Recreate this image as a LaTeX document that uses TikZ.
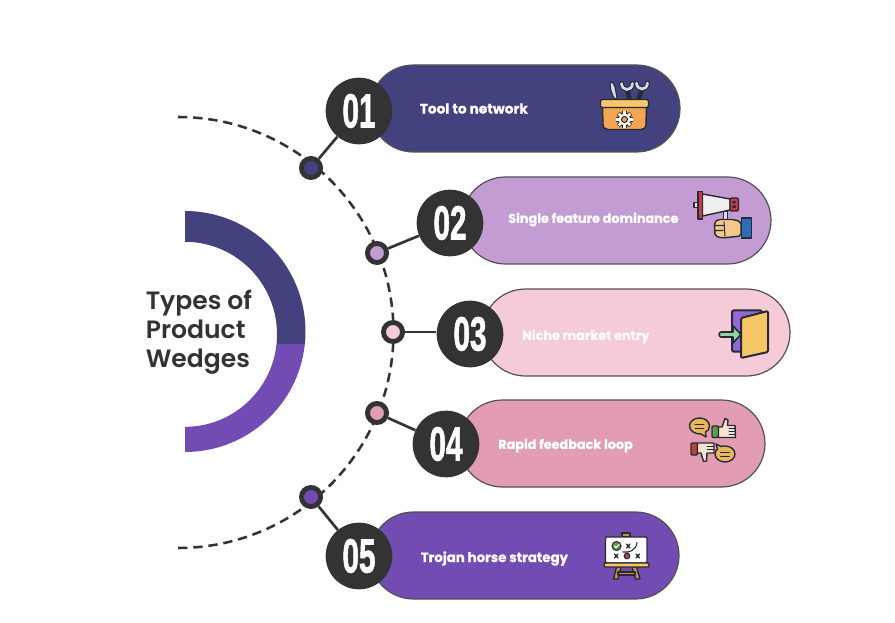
\documentclass[tikz,border=0pt]{standalone}
\usepackage{fontspec}
\usepackage{graphicx}
\setmainfont{Poppins}
\newfontfamily\numfont{Liberation Sans Bold}[FakeBold=1.6]
\newfontfamily\labfont{Poppins Bold}[FakeBold=0.6]
\newfontfamily\headfont{Poppins SemiBold}
\usetikzlibrary{shapes.misc}
\definecolor{ink}{HTML}{333333}
\definecolor{navy}{HTML}{44417F}
\definecolor{lilac}{HTML}{C39CD3}
\definecolor{blush}{HTML}{F4CBD6}
\definecolor{rosy}{HTML}{E29DB2}
\definecolor{violet}{HTML}{724CB2}
\definecolor{icoline}{HTML}{262B33}
\definecolor{gold}{HTML}{F6C667}
\definecolor{honey}{HTML}{E9B55F}
\definecolor{amber}{HTML}{F2A553}
\definecolor{timber}{HTML}{D08A45}
\definecolor{steel}{HTML}{D5DAEA}
\definecolor{tan}{HTML}{F3C98B}
\definecolor{cream}{HTML}{F5E3CF}
\definecolor{signal}{HTML}{C63A45}
\definecolor{cuff}{HTML}{2F6DB5}
\definecolor{leaf}{HTML}{5E9E4B}
\definecolor{brick}{HTML}{B5443C}
\definecolor{mint}{HTML}{8ED4A4}
\definecolor{plum}{HTML}{9468D6}
\tikzset{
  x=0.75pt,y=-0.75pt,
  pill/.style={rounded rectangle,draw=ink!85!white,line width=0.9pt,minimum height=65.25pt,inner sep=0pt,outer sep=0pt},
  numdisc/.style={circle,fill=ink,minimum size=50pt,inner sep=0pt,text=white,font=\numfont\fontsize{36}{36}\selectfont},
  joint/.style={circle,draw=ink,line width=3.7pt,minimum size=14.3pt,inner sep=0pt},
  link/.style={draw=ink,line width=2pt},
  lab/.style={anchor=west,inner sep=0pt,text=white,font=\labfont\fontsize{9.6}{11}\selectfont},
  ico/.style={draw=icoline,line width=1.05pt,line join=round,line cap=round},
  icl/.style={draw=icoline,line width=0.8pt,line cap=round},
}
\newcommand{\cond}[1]{\scalebox{0.62}[1]{#1}}
\begin{document}
\begin{tikzpicture}
\useasboundingbox (0,0) rectangle (895,623);

% central half ring
\fill[navy] (185,211) arc[start angle=-90,end angle=6,radius=120.5]
  -- (276.5,344) arc[start angle=6,end angle=-90,x radius=92,y radius=92.5] -- cycle;
\fill[violet] (185,452) arc[start angle=90,end angle=6,radius=120.5]
  -- (276.5,344) arc[start angle=6,end angle=90,x radius=92,y radius=92.5] -- cycle;
\node[anchor=west,inner sep=0pt,align=left,text=ink,font=\headfont\fontsize{18.8}{21.7}\selectfont] (title) at (145.5,332) {Types of\\Product\\Wedges};

% dashed guide arc
\draw[ink,line width=1.9pt,dash pattern=on 7pt off 4.38pt] (178,117) arc[start angle=-90,end angle=90,radius=215.5];

% capsules
\node[pill,fill=navy,minimum width=232.5pt] (p1) at (525,108.5) {};
\node[pill,fill=lilac,minimum width=231.75pt] (p2) at (616.5,220.5) {};
\node[pill,fill=blush,minimum width=231pt] (p3) at (636,332.5) {};
\node[pill,fill=rosy,minimum width=229.5pt] (p4) at (612,443.5) {};
\node[pill,fill=violet,minimum width=231.75pt] (p5) at (524.5,555.5) {};

% numbered discs and joints on the arc
\node[numdisc] (n1) at (359,111) {\cond{01}};
\node[numdisc] (n2) at (450,223) {\cond{02}};
\node[numdisc] (n3) at (470,334) {\cond{03}};
\node[numdisc] (n4) at (446,444) {\cond{04}};
\node[numdisc] (n5) at (359,556) {\cond{05}};
\node[joint,fill=navy] (j1) at (311,168) {};
\node[joint,fill=lilac] (j2) at (377,253) {};
\node[joint,fill=blush] (j3) at (393,332) {};
\node[joint,fill=rosy] (j4) at (377,413) {};
\node[joint,fill=violet] (j5) at (311,497) {};
\draw[link] (j1) -- (n1);
\draw[link] (j2) -- (n2);
\draw[link] (j3.east) -- (j3.east -| n3.west);
\draw[link] (j4) -- (n4);
\draw[link] (j5) -- (n5);

% capsule captions
\node[lab,font=\labfont\fontsize{10.3}{11}\selectfont] (t1) at (419.5,108.5) {Tool to network};
\node[lab] (t2) at (508,219.5) {Single feature dominance};
\node[lab,text=white!92!blush] (t3) at (522,336.5) {Niche market entry};
\node[lab] (t4) at (498,445.5) {Rapid feedback loop};
\node[lab,font=\labfont\fontsize{10}{11}\selectfont] (t5) at (420.5,558.5) {Trojan horse strategy};

% toolbox
\begin{scope}
\draw[ico,fill=steel,line width=0.8pt] (611.5,81.5) .. controls (608.5,84) and (610.5,91) .. (614.5,99) -- (617,98) .. controls (615.5,91) and (615.5,84) .. (611.5,81.5) -- cycle;
\draw[icoline,line width=3.4pt] (627.5,90) -- (629.5,99.5);
\draw[icoline,line width=3.4pt] (641.5,90) -- (638.5,99.5);
\draw[icoline,line width=3.6pt,line cap=round] (621.5,83.5) .. controls (622,91.5) and (632,91.5) .. (632.5,83.5);
\draw[steel,line width=2pt,line cap=round] (621.5,83.5) .. controls (622,91.5) and (632,91.5) .. (632.5,83.5);
\draw[icoline,line width=3.6pt,line cap=round] (636.5,83) .. controls (637,91) and (647,91) .. (647.5,83);
\draw[steel,line width=2pt,line cap=round] (636.5,83) .. controls (637,91) and (647,91) .. (647.5,83);
\draw[ico,fill=amber] (602.5,107) -- (646.5,107) -- (646,124) .. controls (646,128) and (644,129.5) .. (641,129.5) -- (608,129.5) .. controls (605,129.5) and (603,128) .. (603,124) -- cycle;
\draw[ico,fill=gold,rounded corners=1pt] (600.5,99.5) rectangle (648.5,107.5);
% cog wheel, eight teeth
\foreach \a in {0,45,...,315} {
  \draw[icoline,line width=3.4pt] (624.5,119.5) ++(\a:6) -- ++(\a:2.6);
}
\draw[ico,fill=white,line width=0.8pt] (624.5,119.5) circle[radius=6.3];
\foreach \a in {0,45,...,315} {
  \draw[white,line width=1.9pt] (624.5,119.5) ++(\a:5.5) -- ++(\a:2.6);
}
\draw[ico,fill=amber,line width=0.8pt] (624.5,119.5) circle[radius=3];
\end{scope}

% megaphone held in a fist
\begin{scope}
\draw[ico,fill=steel!80!white] (723.5,211) rectangle (727.5,220);
\draw[ico,fill=white!85!gray] (694,202.5) rectangle (698,207.5);
\draw[ico,fill=white!87!gray] (702.5,194) -- (730,199) -- (730,210) -- (702.5,216) -- cycle;
\draw[ico,fill=signal] (698,191.5) rectangle (702.5,219);
\draw[ico,fill=signal,rounded corners=1pt] (730,198) rectangle (738.5,211);
\fill[icoline] (732.5,201) rectangle (735.5,203.5) (732.5,205.5) rectangle (735.5,208);
\draw[ico,fill=tan,rounded corners=1.5pt] (718,219.5) -- (734,219.5) -- (741,222) -- (741,236) -- (722,238) -- (715,236) -- (714.5,222) -- cycle;
\draw[icl] (714.5,225.5) -- (723,225.5) (714.5,230.5) -- (723,230.5) (724,222) -- (725,236);
\draw[ico,fill=cuff] (741.5,218) rectangle (751.5,238);
\end{scope}

% door with entry arrow
\begin{scope}
\draw[ico,line width=1.5pt,fill=plum,rounded corners=1pt] (732,310.5) rectangle (762,351.5);
\draw[ico,line width=1.5pt,fill=gold,rounded corners=1pt] (741,318) -- (768,311) -- (768,352) -- (741,358) -- cycle;
\draw[ico,line width=1.2pt,fill=mint] (721,332) -- (733,332) -- (733,326) -- (741,334.5) -- (733,343) -- (733,337) -- (721,337) .. controls (718.5,337) and (718.5,332) .. (721,332) -- cycle;
\end{scope}

% feedback: speech bubbles and thumbs
\begin{scope}
\draw[ico,fill=honey] (699.5,418) .. controls (705,418) and (709.5,421.5) .. (709.5,426) .. controls (709.5,429) and (708,431) .. (705.5,432) -- (706,437) -- (701,434) .. controls (695,434) and (689.5,431) .. (689.5,426) .. controls (689.5,421.5) and (694,418) .. (699.5,418) -- cycle;
\draw[icl,line width=0.7pt] (695,424.5) -- (704,424.5) (695,428) -- (704,428);
\draw[ico,fill=leaf,rounded corners=0.8pt] (712,426) rectangle (718.5,437.5);
\draw[ico,fill=cream] (718.5,427) -- (722,427) -- (725,418.5) -- (728,420) -- (727.5,425.5) -- (735,425.5) -- (735.5,437.5) -- (718.5,437.5) -- cycle;
\draw[icl,line width=0.6pt] (729,428.5) -- (735,428.5) (729,431.5) -- (735,431.5) (729,434.5) -- (735,434.5);
\draw[ico,fill=brick,rounded corners=0.8pt] (691,443) rectangle (697.5,455);
\draw[ico,fill=cream] (697.5,443) -- (714,443) -- (714,453) -- (707,453) -- (706.5,461) -- (703.5,461.5) -- (701,453) -- (697.5,453) -- cycle;
\draw[icl,line width=0.6pt] (707,446) -- (714,446) (707,449) -- (714,449);
\draw[ico,fill=honey] (725,446) .. controls (730.5,446) and (735,449.5) .. (735,454) .. controls (735,458.5) and (730.5,462) .. (725,462) .. controls (719.5,462) and (715,458.5) .. (715,454) .. controls (715,451.5) and (716,450) .. (717.5,449) -- (716,444) -- (721,446.5) .. controls (722,446) and (723.5,446) .. (725,446) -- cycle;
\draw[icl,line width=0.7pt] (720.5,452.5) -- (729.5,452.5) (720.5,456) -- (729.5,456);
\end{scope}

% strategy board on an easel
\begin{scope}
\draw[ico,fill=timber] (622,533) rectangle (630,537);
\draw[ico,fill=timber] (616.5,567) -- (621,567) -- (618,579) -- (613.5,579) -- cycle;
\draw[ico,fill=timber] (632,567) -- (636.5,567) -- (640,579) -- (635.5,579) -- cycle;
\draw[ico,fill=timber] (618,572) rectangle (635,575);
\draw[ico,fill=white,rounded corners=0.8pt] (605.5,537) rectangle (647,563);
\draw[ico,fill=gold,rounded corners=0.8pt] (604,563) rectangle (649,567);
\draw[ico,fill=leaf,line width=0.8pt] (616.5,546) circle[radius=4.5];
\draw[icl,draw=white,line width=0.8pt] (614.5,546) -- (616,547.7) -- (619,544.5);
\draw[icl,line width=1pt] (626.5,544) -- (630,548) (630,544) -- (626.5,548);
\draw[icl,line width=0.8pt] (623,552) .. controls (630,553) and (636,550) .. (637,542.5);
\draw[icl,line width=1pt] (614.5,554) -- (618,558) (618,554) -- (614.5,558);
\draw[icl,line width=1pt] (636,554) -- (639.5,558) (639.5,554) -- (636,558);
\draw[ico,fill=signal,line width=0.8pt] (627,556) circle[radius=2.8];
\end{scope}
\end{tikzpicture}
\end{document}
